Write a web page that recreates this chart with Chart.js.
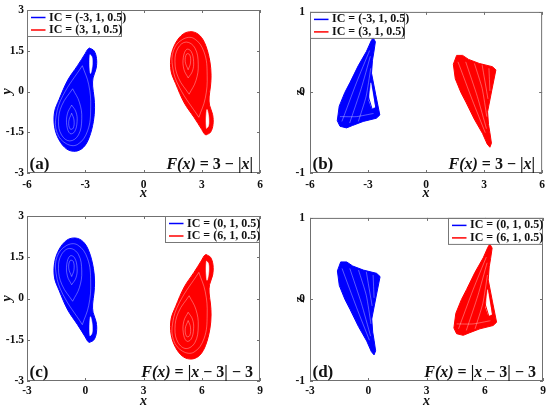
<!DOCTYPE html>
<html>
<head>
<meta charset="utf-8">
<title>Attractors</title>
<script src="https://cdn.jsdelivr.net/npm/chart.js@4.4.1/dist/chart.umd.min.js"></script>
<style>
  body { margin: 0; background: #fff; }
  .panel { position: absolute; }
</style>
</head>
<body>
<div class="panel" style="left:0;top:0"><canvas id="pa" width="275" height="206"></canvas></div>
<div class="panel" style="left:275px;top:0"><canvas id="pb" width="275" height="206"></canvas></div>
<div class="panel" style="left:0;top:206px"><canvas id="pc" width="275" height="207"></canvas></div>
<div class="panel" style="left:275px;top:206px"><canvas id="pd" width="275" height="207"></canvas></div>
<script>
// ---------- ticks and labels ----------
const ticksXTop = [-6, -3, 0, 3, 6];
const ticksXBottom = [-3, 0, 3, 6, 9];
const ticksY = [-3, -1.5, 0, 1.5, 3];
const ticksZ = [-1, 0, 1];
const legendTop = ['IC = (-3, 1, 0.5)', 'IC = (3, 1, 0.5)'];
const legendBottom = ['IC = (0, 1, 0.5)', 'IC = (6, 1, 0.5)'];

// ---------- (a) x-y, F(x) = 3 - |x| ----------
const aBlueEdge = [[-2.78,1.60],[-2.55,1.50],[-2.42,1.22],[-2.44,0.85],[-2.60,0.50],[-2.62,0.20],[-2.55,-0.20],[-2.52,-0.60],[-2.58,-1.10],[-2.80,-1.70],[-3.10,-2.06],[-3.50,-2.20],[-3.95,-2.12],[-4.35,-1.78],[-4.58,-1.30],[-4.58,-0.75],[-4.35,-0.30],[-3.90,0.42],[-3.40,0.95],[-3.00,1.40],[-2.88,1.55],[-2.78,1.60]];
const aBlueHole = [[-2.76,1.36],[-2.66,1.28],[-2.63,1.08],[-2.66,0.84],[-2.73,0.66],[-2.77,0.86],[-2.78,1.15],[-2.76,1.36]];
const aBlueLoops = [
  [[-3.70,-0.80],[-3.58,-1.05],[-3.62,-1.35],[-3.78,-1.38],[-3.85,-1.10],[-3.70,-0.80]],
  [[-3.70,-0.50],[-3.48,-0.75],[-3.42,-1.10],[-3.55,-1.48],[-3.78,-1.55],[-3.95,-1.25],[-3.92,-0.82],[-3.70,-0.50]],
  [[-3.65,0.10],[-3.30,-0.40],[-3.18,-1.00],[-3.35,-1.60],[-3.80,-1.82],[-4.22,-1.60],[-4.38,-1.10],[-4.20,-0.50],[-3.65,0.10]],
  [[-3.15,0.95],[-2.82,0.25],[-2.72,-0.60],[-2.88,-1.45],[-3.40,-1.95],[-3.98,-1.92],[-4.45,-1.52],[-4.50,-0.90],[-4.15,-0.15],[-3.15,0.95]]
];
const aRedEdge = [[3.22,-1.60],[3.45,-1.50],[3.58,-1.22],[3.56,-0.85],[3.40,-0.50],[3.38,-0.20],[3.45,0.20],[3.48,0.60],[3.42,1.10],[3.20,1.70],[2.90,2.06],[2.50,2.20],[2.05,2.12],[1.65,1.78],[1.42,1.30],[1.42,0.75],[1.65,0.30],[2.10,-0.42],[2.60,-0.95],[3.00,-1.40],[3.12,-1.55],[3.22,-1.60]];
const aRedHole = [[3.24,-1.36],[3.34,-1.28],[3.37,-1.08],[3.34,-0.84],[3.27,-0.66],[3.23,-0.86],[3.22,-1.15],[3.24,-1.36]];
const aRedLoops = [
  [[2.30,0.80],[2.42,1.05],[2.38,1.35],[2.22,1.38],[2.15,1.10],[2.30,0.80]],
  [[2.30,0.50],[2.52,0.75],[2.58,1.10],[2.45,1.48],[2.22,1.55],[2.05,1.25],[2.08,0.82],[2.30,0.50]],
  [[2.35,-0.10],[2.70,0.40],[2.82,1.00],[2.65,1.60],[2.20,1.82],[1.78,1.60],[1.62,1.10],[1.80,0.50],[2.35,-0.10]],
  [[2.85,-0.95],[3.18,-0.25],[3.28,0.60],[3.12,1.45],[2.60,1.95],[2.02,1.92],[1.55,1.52],[1.50,0.90],[1.85,0.15],[2.85,-0.95]]
];

// ---------- (b) x-z, F(x) = 3 - |x| ----------
const bBlueEdge = [[-2.74,0.68],[-2.62,0.63],[-2.70,0.50],[-2.77,0.40],[-2.82,0.24],[-2.60,-0.03],[-2.39,-0.28],[-2.57,-0.32],[-3.25,-0.36],[-3.80,-0.41],[-4.11,-0.44],[-4.45,-0.42],[-4.59,-0.35],[-4.49,-0.17],[-4.20,0.00],[-3.94,0.12],[-3.51,0.33],[-3.08,0.51],[-2.84,0.64],[-2.74,0.68]];
const bBlueHole = [[-2.85,0.12],[-2.62,-0.18],[-2.80,-0.20],[-2.95,-0.10],[-2.90,0.02],[-2.85,0.12]];
const bBlueStrands = [
  [[-4.35,-0.36],[-3.60,0.12],[-2.92,0.52]],
  [[-3.95,-0.38],[-3.35,0.05],[-2.88,0.45]],
  [[-3.50,-0.36],[-3.10,-0.05],[-2.86,0.30]],
  [[-4.45,-0.30],[-3.60,-0.30],[-2.70,-0.26]]
];
const bBlueCross = [
  [[-2.84,0.20],[-2.58,-0.22]],
  [[-3.00,-0.04],[-2.72,-0.26]]
];
const bRedEdge = [[3.30,-0.68],[3.38,-0.63],[3.30,-0.50],[3.23,-0.40],[3.18,-0.24],[3.40,0.03],[3.61,0.28],[3.43,0.32],[2.75,0.36],[2.20,0.41],[1.89,0.46],[1.58,0.46],[1.41,0.35],[1.51,0.17],[1.80,0.00],[2.06,-0.12],[2.49,-0.33],[2.92,-0.51],[3.16,-0.64],[3.30,-0.68]];
const bRedStrands = [
  [[1.65,0.38],[2.40,-0.10],[3.06,-0.50]],
  [[2.05,0.38],[2.65,-0.05],[3.12,-0.45]],
  [[2.50,0.36],[2.90,0.05],[3.14,-0.30]],
  [[2.90,0.34],[3.20,-0.08]],
  [[3.25,0.30],[3.30,0.02]]
];

// ---------- (c) x-y, F(x) = |x - 3| - 3 ----------
const cBlueEdge = [[0.22,-1.60],[0.45,-1.50],[0.58,-1.22],[0.56,-0.85],[0.40,-0.50],[0.38,-0.20],[0.45,0.20],[0.48,0.60],[0.42,1.10],[0.20,1.70],[-0.10,2.06],[-0.50,2.20],[-0.95,2.12],[-1.35,1.78],[-1.58,1.30],[-1.58,0.75],[-1.35,0.30],[-0.90,-0.42],[-0.40,-0.95],[0.00,-1.40],[0.12,-1.55],[0.22,-1.60]];
const cBlueHole = [[0.24,-1.36],[0.34,-1.28],[0.37,-1.08],[0.34,-0.84],[0.27,-0.66],[0.23,-0.86],[0.22,-1.15],[0.24,-1.36]];
const cBlueLoops = [
  [[-0.70,0.80],[-0.58,1.05],[-0.62,1.35],[-0.78,1.38],[-0.85,1.10],[-0.70,0.80]],
  [[-0.70,0.50],[-0.48,0.75],[-0.42,1.10],[-0.55,1.48],[-0.78,1.55],[-0.95,1.25],[-0.92,0.82],[-0.70,0.50]],
  [[-0.65,-0.10],[-0.30,0.40],[-0.18,1.00],[-0.35,1.60],[-0.80,1.82],[-1.22,1.60],[-1.38,1.10],[-1.20,0.50],[-0.65,-0.10]],
  [[-0.15,-0.95],[0.18,-0.25],[0.28,0.60],[0.12,1.45],[-0.40,1.95],[-0.98,1.92],[-1.45,1.52],[-1.50,0.90],[-1.15,0.15],[-0.15,-0.95]]
];
const cRedEdge = [[6.22,1.60],[6.45,1.50],[6.58,1.22],[6.56,0.85],[6.40,0.50],[6.38,0.20],[6.45,-0.20],[6.48,-0.60],[6.42,-1.10],[6.20,-1.70],[5.90,-2.06],[5.50,-2.20],[5.05,-2.12],[4.65,-1.78],[4.42,-1.30],[4.42,-0.75],[4.65,-0.30],[5.10,0.42],[5.60,0.95],[6.00,1.40],[6.12,1.55],[6.22,1.60]];
const cRedHole = [[6.24,1.36],[6.34,1.28],[6.37,1.08],[6.34,0.84],[6.27,0.66],[6.23,0.86],[6.22,1.15],[6.24,1.36]];
const cRedLoops = [
  [[5.30,-0.80],[5.42,-1.05],[5.38,-1.35],[5.22,-1.38],[5.15,-1.10],[5.30,-0.80]],
  [[5.30,-0.50],[5.52,-0.75],[5.58,-1.10],[5.45,-1.48],[5.22,-1.55],[5.05,-1.25],[5.08,-0.82],[5.30,-0.50]],
  [[5.35,0.10],[5.70,-0.40],[5.82,-1.00],[5.65,-1.60],[5.20,-1.82],[4.78,-1.60],[4.62,-1.10],[4.80,-0.50],[5.35,0.10]],
  [[5.85,0.95],[6.18,0.25],[6.28,-0.60],[6.12,-1.45],[5.60,-1.95],[5.02,-1.92],[4.55,-1.52],[4.50,-0.90],[4.85,-0.15],[5.85,0.95]]
];

// ---------- (d) x-z, F(x) = |x - 3| - 3 ----------
const dBlueEdge = [[0.30,-0.68],[0.38,-0.63],[0.30,-0.50],[0.23,-0.40],[0.18,-0.24],[0.40,0.03],[0.61,0.28],[0.43,0.32],[-0.25,0.36],[-0.80,0.41],[-1.11,0.46],[-1.42,0.46],[-1.59,0.35],[-1.49,0.17],[-1.20,0.00],[-0.94,-0.12],[-0.51,-0.33],[-0.08,-0.51],[0.16,-0.64],[0.30,-0.68]];
const dBlueStrands = [
  [[-1.35,0.38],[-0.60,-0.10],[0.06,-0.50]],
  [[-0.95,0.38],[-0.35,-0.05],[0.12,-0.45]],
  [[-0.50,0.36],[-0.10,0.05],[0.14,-0.30]],
  [[-0.10,0.34],[0.20,-0.08]],
  [[0.25,0.30],[0.30,0.02]]
];
const dRedEdge = [[6.26,0.68],[6.38,0.63],[6.30,0.50],[6.23,0.40],[6.18,0.24],[6.40,-0.03],[6.61,-0.28],[6.43,-0.32],[5.75,-0.36],[5.20,-0.41],[4.89,-0.44],[4.55,-0.42],[4.41,-0.35],[4.51,-0.17],[4.80,0.00],[5.06,0.12],[5.49,0.33],[5.92,0.51],[6.16,0.64],[6.26,0.68]];
const dRedHole = [[6.15,0.12],[6.38,-0.18],[6.20,-0.20],[6.05,-0.10],[6.10,0.02],[6.15,0.12]];
const dRedStrands = [
  [[4.65,-0.36],[5.40,0.12],[6.08,0.52]],
  [[5.05,-0.38],[5.65,0.05],[6.12,0.45]],
  [[5.50,-0.36],[5.90,-0.05],[6.14,0.30]],
  [[4.55,-0.30],[5.40,-0.30],[6.30,-0.26]]
];
const dRedCross = [
  [[6.16,0.20],[6.42,-0.22]],
  [[6.00,-0.04],[6.28,-0.26]]
];

// ---------- styles ----------
const BLUE = '#0000ff';
const RED = '#ff0000';
const GAP = 'rgba(255,255,255,0.5)';
const SERIF = '"Liberation Serif", "Times New Roman", serif';

const toXY = pts => pts.map(([x, y]) => ({ x, y }));

// filled outline of one attractor
function body(pts, color, tension) {
  return { data: toXY(pts), showLine: true, fill: 'shape', backgroundColor: color,
    borderColor: color, borderWidth: 1, pointRadius: 0, tension, order: 4 };
}
// white gap inside the band
function hole(pts, tension) {
  return { data: toXY(pts), showLine: true, fill: 'shape', backgroundColor: '#fff',
    borderColor: '#fff', borderWidth: 0.5, pointRadius: 0, tension, order: 2 };
}
// single trajectory strand
function thread(pts, color, width, tension, order) {
  return { data: toXY(pts), showLine: true, fill: false, borderColor: color,
    borderWidth: width, pointRadius: 0, tension, order };
}

// ---------- frame, inner ticks, legend and labels ----------
const decor = {
  id: 'decor',
  afterDatasetsDraw(chart, args, o) {
    const { ctx, chartArea: a, scales: { x, y } } = chart;
    ctx.save();
    ctx.strokeStyle = '#707070';
    ctx.lineWidth = 1;
    ctx.beginPath();
    x.ticks.forEach(t => {
      const px = Math.round(x.getPixelForValue(t.value)) + 0.5;
      ctx.moveTo(px, a.bottom); ctx.lineTo(px, a.bottom - 3);
      ctx.moveTo(px, a.top); ctx.lineTo(px, a.top + 3);
    });
    y.ticks.forEach(t => {
      const py = Math.round(y.getPixelForValue(t.value)) + 0.5;
      ctx.moveTo(a.left, py); ctx.lineTo(a.left + 3, py);
      ctx.moveTo(a.right, py); ctx.lineTo(a.right - 3, py);
    });
    ctx.stroke();
    ctx.strokeRect(a.left + 0.5, a.top + 0.5, a.width - 1, a.height - 1);

    // legend
    const w = 95, h = 27;
    const x0 = o.side === 'left' ? a.left : a.right - w;
    const y0 = a.top;
    ctx.fillStyle = '#fff';
    ctx.fillRect(x0 + 1, y0 + 1, w - 2, h - 2);
    ctx.strokeStyle = '#777';
    ctx.strokeRect(x0 + 0.5, y0 + 0.5, w - 1, h - 1);
    ctx.font = 'bold 12px ' + SERIF;
    ctx.textBaseline = 'middle';
    ctx.textAlign = 'left';
    o.items.forEach((it, i) => {
      const cy = y0 + 7.5 + i * 12.5;
      ctx.strokeStyle = it.color;
      ctx.lineWidth = 1.5;
      ctx.beginPath();
      ctx.moveTo(x0 + 4, cy); ctx.lineTo(x0 + 18.5, cy);
      ctx.stroke();
      ctx.fillStyle = '#111';
      ctx.fillText(it.text, x0 + 22, cy);
    });

    // panel tag
    const ty = a.bottom - 8.5;
    ctx.font = 'bold 17px ' + SERIF;
    ctx.fillStyle = '#111';
    ctx.fillText(o.tag, a.left + 2.5, ty);

    // formula, right aligned
    const fontOf = p => (p[1] === 'i' ? 'italic bold 16px ' : 'bold 16px ') + SERIF;
    let total = 0;
    o.formula.forEach(p => { ctx.font = fontOf(p); total += ctx.measureText(p[0]).width; });
    let fx = a.right - 7 - total;
    o.formula.forEach(p => {
      ctx.font = fontOf(p);
      ctx.fillText(p[0], fx, ty);
      fx += ctx.measureText(p[0]).width;
    });
    ctx.restore();
  }
};

function axisX(ticks, height, tickPad, titlePad) {
  return {
    type: 'linear', min: ticks[0], max: ticks[ticks.length - 1],
    grid: { display: false, drawTicks: false }, border: { display: false },
    afterBuildTicks: s => { s.ticks = ticks.map(v => ({ value: v })); },
    afterFit: s => { s.height = height; },
    ticks: { padding: tickPad, color: '#111', autoSkip: false, maxRotation: 0,
      font: { family: SERIF, size: 11.5, weight: 'bold' }, callback: v => String(v) },
    title: { display: true, text: 'x', color: '#111', padding: { top: 0, bottom: titlePad },
      font: { family: SERIF, size: 14, style: 'italic', weight: 'bold', lineHeight: 1 } }
  };
}

function axisY(ticks, width, tickPad, label, titlePad) {
  return {
    type: 'linear', min: ticks[0], max: ticks[ticks.length - 1],
    grid: { display: false, drawTicks: false }, border: { display: false },
    afterBuildTicks: s => { s.ticks = ticks.map(v => ({ value: v })); },
    afterFit: s => { s.width = width; },
    ticks: { padding: tickPad, color: '#111', autoSkip: false,
      font: { family: SERIF, size: 11.5, weight: 'bold' }, callback: v => String(v) },
    title: { display: true, text: label, color: '#111', padding: { top: titlePad, bottom: 0 },
      font: { family: SERIF, size: 14, style: 'italic', weight: 'bold', lineHeight: 1 } }
  };
}

function makePanel(id, datasets, scales, padRight, deco) {
  new Chart(document.getElementById(id), {
    type: 'scatter',
    data: { datasets },
    options: {
      responsive: false,
      animation: false,
      events: [],
      layout: { padding: { top: 10, right: padRight, bottom: 0, left: 0 } },
      scales,
      plugins: { legend: { display: false }, tooltip: { enabled: false }, decor: deco }
    },
    plugins: [decor]
  });
}

const formulaTop = [['F(x)', 'i'], [' = 3 \u2212 |', 'n'], ['x', 'i'], ['|', 'n']];
const formulaBottom = [['F(x)', 'i'], [' = |', 'n'], ['x', 'i'], [' \u2212 3| \u2212 3', 'n']];

// (a)
makePanel('pa', [
  body(aBlueEdge, BLUE, 0.35), body(aRedEdge, RED, 0.35),
  ...aBlueLoops.map(l => thread(l, GAP, 0.7, 0.4, 3)),
  ...aRedLoops.map(l => thread(l, GAP, 0.7, 0.4, 3)),
  hole(aBlueHole, 0.4), hole(aRedHole, 0.4)
], { x: axisX(ticksXTop, 33, 5, 5.5), y: axisY(ticksY, 27, 3, 'y', 0) }, 15,
{ side: 'left', tag: '(a)', formula: formulaTop,
  items: [{ text: legendTop[0], color: BLUE }, { text: legendTop[1], color: RED }] });

// (b)
makePanel('pb', [
  body(bBlueEdge, BLUE, 0), body(bRedEdge, RED, 0),
  ...bBlueStrands.map(l => thread(l, GAP, 0.7, 0.2, 3)),
  ...bRedStrands.map(l => thread(l, GAP, 0.7, 0.2, 3)),
  hole(bBlueHole, 0),
  ...bBlueCross.map(l => thread(l, BLUE, 1, 0, 1))
], { x: axisX(ticksXTop, 33, 5, 5.5), y: axisY(ticksZ, 35, 5, 'z', 18) }, 7,
{ side: 'left', tag: '(b)', formula: formulaTop,
  items: [{ text: legendTop[0], color: BLUE }, { text: legendTop[1], color: RED }] });

// (c)
makePanel('pc', [
  body(cBlueEdge, BLUE, 0.35), body(cRedEdge, RED, 0.35),
  ...cBlueLoops.map(l => thread(l, GAP, 0.7, 0.4, 3)),
  ...cRedLoops.map(l => thread(l, GAP, 0.7, 0.4, 3)),
  hole(cBlueHole, 0.4), hole(cRedHole, 0.4)
], { x: axisX(ticksXBottom, 32, 3, 4.5), y: axisY(ticksY, 27, 3, 'y', 0) }, 15,
{ side: 'right', tag: '(c)', formula: formulaBottom,
  items: [{ text: legendBottom[0], color: BLUE }, { text: legendBottom[1], color: RED }] });

// (d)
makePanel('pd', [
  body(dBlueEdge, BLUE, 0), body(dRedEdge, RED, 0),
  ...dBlueStrands.map(l => thread(l, GAP, 0.7, 0.2, 3)),
  ...dRedStrands.map(l => thread(l, GAP, 0.7, 0.2, 3)),
  hole(dRedHole, 0),
  ...dRedCross.map(l => thread(l, RED, 1, 0, 1))
], { x: axisX(ticksXBottom, 32, 3, 4.5), y: axisY(ticksZ, 35, 5, 'z', 18) }, 7,
{ side: 'right', tag: '(d)', formula: formulaBottom,
  items: [{ text: legendBottom[0], color: BLUE }, { text: legendBottom[1], color: RED }] });
</script>
</body>
</html>
